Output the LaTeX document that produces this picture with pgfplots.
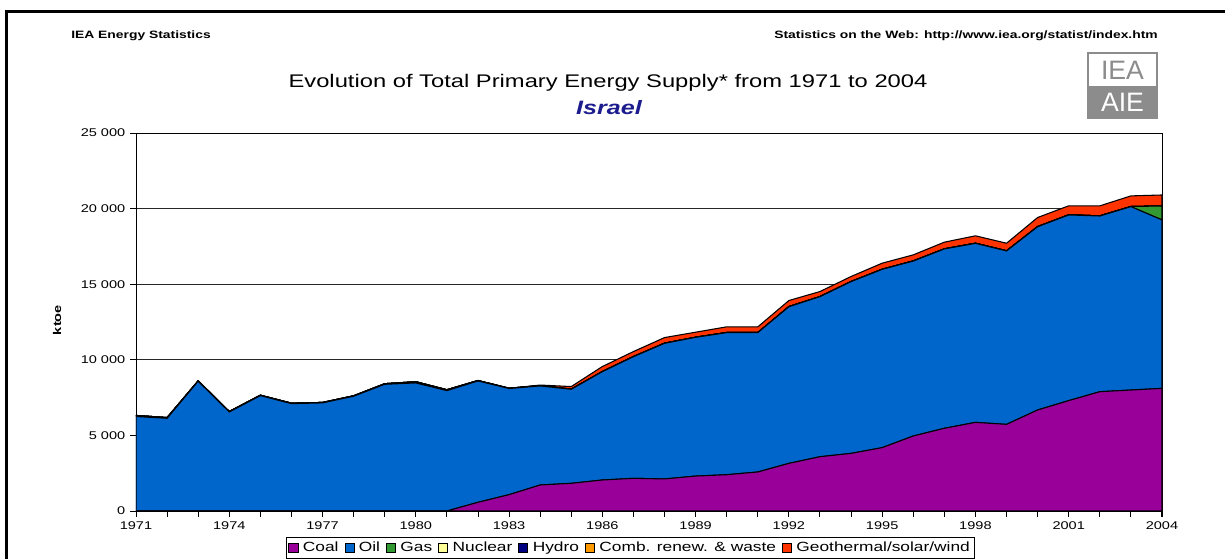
\documentclass[border=0pt]{standalone}
\usepackage{fontspec}
\setmainfont{Liberation Sans}[FakeStretch=1.3]
\newfontfamily\logofont{Liberation Sans}[FakeStretch=1.0]
\usepackage{pgfplots}
\usepackage{pgfplotstable}
\pgfplotsset{compat=1.18}
\definecolor{coal}{HTML}{990099}
\definecolor{oil}{HTML}{0066CC}
\definecolor{gas}{HTML}{339933}
\definecolor{nuc}{HTML}{FFFF99}
\definecolor{hydro}{HTML}{000080}
\definecolor{comb}{HTML}{FF9900}
\definecolor{geo}{HTML}{FF3300}
\definecolor{israel}{HTML}{1C1C8E}
\definecolor{logogray}{HTML}{8C8C8C}
\pgfplotstableread{
year coal oil gas nuc hydro comb geo
1971 0 6250 70 0 0 0 0
1972 0 6130 50 0 0 0 0
1973 0 8580 30 0 0 0 0
1974 0 6550 30 0 0 0 0
1975 0 7630 30 0 0 0 0
1976 0 7100 30 0 0 0 0
1977 0 7150 30 0 0 0 0
1978 0 7590 30 0 0 0 0
1979 0 8380 40 0 0 0 0
1980 0 8470 80 0 0 0 0
1981 0 7960 60 0 0 0 0
1982 575 8025 30 0 0 0 0
1983 1080 7020 20 0 0 0 0
1984 1720 6550 20 0 0 0 40
1985 1830 6220 10 0 0 0 170
1986 2050 7165 10 0 0 0 330
1987 2160 8045 10 0 0 0 330
1988 2120 8970 10 0 0 0 370
1989 2310 9175 10 0 0 0 330
1990 2400 9395 10 0 0 0 375
1991 2580 9215 10 0 0 0 375
1992 3150 10360 10 0 0 0 400
1993 3590 10585 10 0 0 0 330
1994 3810 11360 10 0 0 0 330
1995 4190 11790 10 0 0 0 400
1996 4960 11570 10 0 0 0 400
1997 5470 11860 10 0 0 0 440
1998 5860 11840 10 0 0 0 490
1999 5730 11470 10 0 0 0 500
2000 6680 12120 10 0 0 0 600
2001 7300 12280 10 0 0 0 595
2002 7890 11620 10 0 0 0 660
2003 8000 12130 10 0 0 0 700
2004 8110 11140 920 0 0 0 730
}\tpes
\begin{document}
\begin{tikzpicture}
\begin{scope}[x=0.75pt,y=-0.75pt,shift={(-102pt,383.25pt)}]
\useasboundingbox (0,0) rectangle (1225,552);
\fill[white] (0,0) rectangle (1225,552);
\draw[line width=2.25pt] (6.5,560) -- (6.5,11.5) -- (1240,11.5);
\node[anchor=base west,inner sep=0pt] at (71,39) {\bfseries\fontsize{8}{9.6}\selectfont IEA Energy Statistics};
\node[anchor=base east,inner sep=0pt] at (1158,39) {\bfseries\fontsize{8}{9.6}\selectfont Statistics on the Web: http://www.iea.org/statist/index.htm};
\node[anchor=base,inner sep=0pt] at (608,87.5) {\fontsize{13.7}{16}\selectfont Evolution of Total Primary Energy Supply* from 1971 to 2004};
\node[anchor=base,inner sep=0pt,text=israel] at (609,115) {\bfseries\itshape\fontsize{14.5}{17}\selectfont Israel};
% logo
\fill[white] (1088,53) rectangle (1157,86);
\fill[logogray] (1088,86) rectangle (1157,118);
\draw[logogray,line width=1pt] (1088,53) rectangle (1157,118);
\node[text=logogray,inner sep=0pt] at (1122.5,70) {\logofont\fontsize{20}{20}\selectfont IEA};
\node[text=white,inner sep=0pt] at (1122.5,102) {\logofont\fontsize{20}{20}\selectfont AIE};
% legend shadow (right edge)
\fill[black] (970,539) rectangle (973,560);
\end{scope}
\begin{axis}[
  at={(0pt,0pt)}, anchor=south west,
  scale only axis, width=769.5pt, height=283.5pt,
  xmin=1971, xmax=2004, ymin=0, ymax=25000,
  enlargelimits=false,
  stack plots=y,
  xtick={1971,1974,...,2004},
  minor xtick={1971,...,2004},
  ytick={0,5000,...,25000},
  scaled y ticks=false,
  ymajorgrids,
  major grid style={black!85,line width=0.7pt},
  axis line style={black,line width=0.7pt},
  tick style={black,line width=0.7pt},
  tick align=outside,
  major tick length=4.5pt, minor tick length=4.5pt,
  xtick pos=left, ytick pos=left,
  /pgf/number format/assume math mode=true,
  /pgf/number format/1000 sep={\ },
  x tick label style={/pgf/number format/1000 sep={}},
  tick label style={font=\fontsize{8.4}{10}\selectfont},
  ylabel={\bfseries ktoe},
  ylabel style={at={(axis description cs:-0.077,0.505)},anchor=center,font=\fontsize{8.4}{10}\selectfont},
  legend columns=-1,
  legend style={at={(axis description cs:0.1462,-0.0688)},anchor=north west,
    draw=black,line width=0.7pt,inner sep=1.5pt,fill=white,
    font=\fontsize{10}{12}\selectfont,
    /tikz/every odd column/.append style={column sep=1.5pt},
    /tikz/every even column/.append style={column sep=2.5pt}},
  legend image code/.code={\draw[#1,line width=0.5pt] (0pt,-3.2pt) rectangle (6.8pt,3.4pt);},
  every axis plot/.append style={draw=black,line width=0.8pt,mark=none},
]
\addplot[fill=coal] table[x=year,y=coal]{\tpes} \closedcycle;
\addplot[fill=oil] table[x=year,y=oil]{\tpes} \closedcycle;
\addplot[fill=gas] table[x=year,y=gas]{\tpes} \closedcycle;
\addplot[fill=nuc] table[x=year,y=nuc]{\tpes} \closedcycle;
\addplot[fill=hydro] table[x=year,y=hydro]{\tpes} \closedcycle;
\addplot[fill=comb] table[x=year,y=comb]{\tpes} \closedcycle;
\addplot[fill=geo] table[x=year,y=geo]{\tpes} \closedcycle;
\legend{Coal,Oil,Gas,Nuclear,Hydro,Comb. renew. \& waste,Geothermal/solar/wind}
\end{axis}
\end{tikzpicture}
\end{document}
